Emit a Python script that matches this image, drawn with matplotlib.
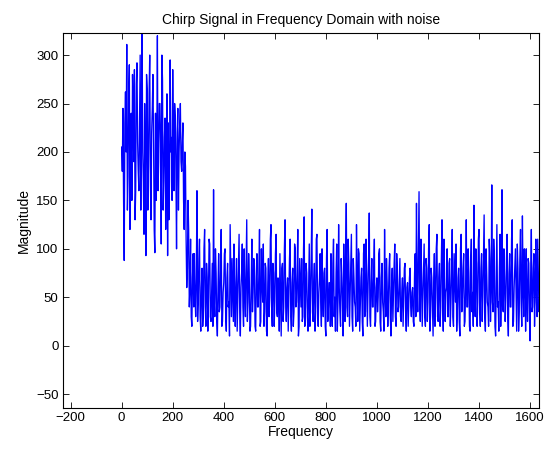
import numpy as np
import matplotlib
matplotlib.use("Agg")
import matplotlib.pyplot as plt

plt.rcParams['font.family'] = ['Liberation Sans', 'DejaVu Sans']

# spectrum magnitude: one sample every 5 Hz
# plus the samples half way between them (2.5 Hz offset)
step_hz = 5

# 0 .. 235 Hz : the chirp band
mag_chirp = [205, 245, 88, 262, 311, 175, 290, 200, 150, 240,
             285, 160, 292, 180, 230, 140, 322, 170, 250, 93,
             265, 185, 300, 130, 245, 210, 96, 150, 320, 190,
             250, 105, 275, 170, 235, 200, 93, 130, 295, 215,
             285, 160, 235, 100, 245, 200, 250, 180]
mid_chirp = [180, 150, 230, 200, 140, 260, 120, 240, 280, 190,
             130, 270, 210, 160, 300, 250, 200, 115, 190, 280,
             140, 260, 170, 220, 280, 120, 240, 200, 160, 250,
             210, 300, 140, 215, 120, 260, 230, 170, 200, 150,
             210, 250, 180, 220, 140, 230, 190, 210]

# 240 .. 280 Hz : drop off
mag_edge = [230, 120, 185, 60, 150, 40, 110, 20, 95]
mid_edge = [150, 200, 110, 80, 120, 60, 30, 70, 40]

# 285 .. 1635 Hz : noise floor
mag_noise = [
    95, 30, 160, 45, 110, 15, 80, 35, 120, 20, 70, 50, 105, 25, 85, 161, 30, 75, 10, 95,
    40, 120, 25, 65, 100, 15, 85, 45, 125, 30, 60, 105, 20, 90, 50, 115, 10, 75, 40, 100,
    30, 130, 45, 70, 20, 110, 55, 85, 15, 95, 40, 120, 25, 65, 105, 35, 80, 10, 90, 50,
    125, 20, 75, 45, 115, 30, 60, 95, 10, 85, 40, 130, 25, 70, 50, 110, 15, 80, 35, 100,
    45, 120, 20, 65, 90, 30, 133, 40, 75, 15, 105, 50, 141, 25, 85, 35, 115, 20, 70, 45,
    100, 30, 80, 10, 120, 40, 65, 95, 20, 110, 50, 75, 15, 125, 35, 90, 45, 105, 25, 147,
    30, 85, 50, 115, 15, 70, 40, 125, 25, 95, 45, 80, 10, 105, 35, 75, 55, 137, 20, 90,
    40, 110, 25, 70, 50, 100, 15, 85, 35, 120, 30, 65, 45, 95, 10, 80, 55, 105, 20, 75,
    40, 90, 25, 70, 50, 85, 15, 65, 45, 80, 30, 60, 20, 95, 147, 35, 159, 25, 75, 50,
    105, 20, 80, 45, 125, 30, 70, 10, 95, 50, 115, 25, 85, 40, 130, 15, 75, 55, 100, 30,
    90, 45, 120, 20, 70, 105, 35, 80, 10, 115, 50, 95, 25, 130, 40, 75, 15, 110, 55, 145,
    30, 85, 45, 120, 20, 95, 50, 135, 15, 75, 40, 110, 25, 166, 35, 90, 10, 125, 45, 80,
    20, 161, 35, 70, 50, 115, 10, 95, 40, 130, 25, 80, 55, 105, 15, 90, 45, 134, 30, 70,
    100, 25, 85, 5, 120, 40, 95, 60, 45, 110, 35]
mid_noise = [
    50, 70, 25, 90, 30, 60, 20, 100, 40, 85, 15, 110, 30, 55, 20, 45, 100, 25, 60, 35,
    85, 20, 55, 95, 30, 70, 40, 10, 75, 90, 25, 50, 65, 15, 80, 35, 60, 105, 20, 55,
    80, 25, 95, 15, 60, 35, 90, 20, 70, 40, 75, 20, 100, 45, 20, 85, 15, 65, 30, 110,
    40, 85, 20, 95, 35, 70, 15, 50, 80, 25, 100, 45, 60, 15, 90, 30, 65, 20, 105, 40,
    75, 10, 90, 40, 25, 100, 20, 85, 30, 60, 20, 90, 35, 65, 15, 110, 40, 55, 95, 20,
    55, 75, 20, 90, 25, 65, 20, 45, 85, 30, 15, 105, 45, 60, 20, 70, 10, 60, 95, 40,
    110, 20, 75, 30, 90, 45, 20, 65, 100, 15, 70, 25, 95, 30, 110, 20, 90, 30, 65, 40,
    80, 20, 60, 35, 95, 25, 70, 45, 15, 55, 90, 20, 80, 30, 60, 25, 85, 30, 95, 35,
    65, 30, 55, 20, 80, 35, 60, 20, 70, 40, 55, 25, 75, 30, 60, 100, 45, 110, 20, 85,
    30, 90, 25, 100, 15, 80, 40, 65, 20, 100, 30, 70, 20, 90, 45, 110, 25, 60, 30, 85,
    20, 75, 30, 95, 45, 15, 70, 25, 100, 35, 80, 20, 60, 40, 100, 20, 90, 35, 20, 70,
    100, 20, 110, 40, 80, 25, 95, 30, 100, 45, 20, 90, 60, 45, 110, 20, 70, 40, 15, 115,
    60, 40, 100, 25, 90, 30, 75, 40, 110, 20, 60, 100, 15, 80, 35, 120, 20, 60, 100, 15,
    45, 90, 30, 75, 35, 80, 20, 110, 30, 70, 50]

xticks = [-200, 0, 200, 400, 600, 800, 1000, 1200, 1400, 1600]
yticks = [-50, 0, 50, 100, 150, 200, 250, 300]

main = np.array(mag_chirp + mag_edge + mag_noise, dtype=float)
mid = np.array(mid_chirp + mid_edge + mid_noise, dtype=float)
mag = np.empty(2 * len(main))
mag[0::2] = main
mag[1::2] = mid
freq = np.arange(len(mag)) * step_hz / 2

fig = plt.figure(figsize=(5.49, 4.5), dpi=100)
ax = fig.add_axes([0.1142, 0.094, 0.8676, 0.832])
ax.plot(freq, mag, color='#0000ff', lw=0.95)

ax.set_xlim(-231, 1635)
ax.set_ylim(-64, 322.5)
ax.set_xticks(xticks)
ax.set_yticks(yticks)
ax.tick_params(direction='in', top=True, right=True, length=4, width=0.6,
               labelsize=9.5, pad=3)
for s in ax.spines.values():
    s.set_linewidth(0.8)

ax.set_title('Chirp Signal in Frequency Domain with noise', fontsize=10, pad=7)
ax.set_xlabel('Frequency', fontsize=10, labelpad=1)
ax.set_ylabel('Magnitude', fontsize=10, labelpad=4)

fig.savefig('out.png', dpi=100)
